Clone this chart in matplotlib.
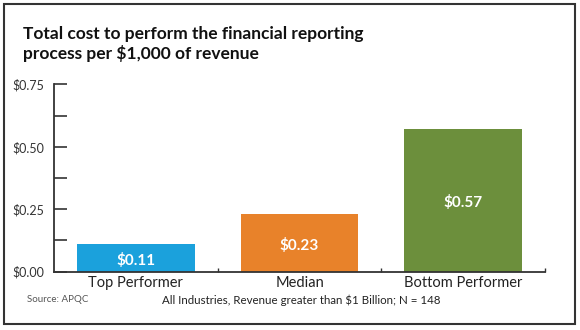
import matplotlib.pyplot as plt
from matplotlib.patches import Rectangle
from matplotlib.ticker import MultipleLocator, FixedLocator

categories = ["Top Performer", "Median", "Bottom Performer"]
costs = [0.11, 0.23, 0.57]
bar_colors = ["#1ba1dc", "#e8822a", "#6c8f3c"]
y_ticks = [0.00, 0.25, 0.50, 0.75]
y_tick_labels = ["$0.00", "$0.25", "$0.50", "$0.75"]

title = "Total cost to perform the financial reporting\nprocess per $1,000 of revenue"
source = "Source: APQC"
note = "All Industries, Revenue greater than \\$1 Billion; N = 148"

plt.rcParams["font.family"] = ["Lato", "DejaVu Sans"]
axis_color = "#333333"

fig = plt.figure(figsize=(5.8, 3.3), dpi=100)
ax = fig.add_axes([0.0931, 0.1767, 0.8466, 0.5678])

x = list(range(len(categories)))
bars = ax.bar(x, costs, width=0.72, color=bar_colors, zorder=2)

for bar, val in zip(bars, costs):
    ax.text(bar.get_x() + bar.get_width() / 2, val / 2 - 0.01, f"\\${val:.2f}",
            ha="center", va="center", color="white", fontsize=11, fontweight="bold")

ax.set_xlim(-0.5, 2.5)
ax.set_ylim(0, 0.75)

ax.set_yticks(y_ticks)
ax.set_yticklabels([t.replace("$", "\\$") for t in y_tick_labels])
ax.yaxis.set_minor_locator(MultipleLocator(0.125))
ax.tick_params(axis="y", which="both", direction="in", length=9, width=1.2,
               color=axis_color, labelsize=9, labelcolor=axis_color, pad=7)

ax.set_xticks(x)
ax.set_xticklabels(categories)
ax.xaxis.set_minor_locator(FixedLocator([0.5, 1.5, 2.5]))
ax.tick_params(axis="x", which="major", length=0, labelsize=10.5,
               labelcolor="#222222", pad=3)
ax.tick_params(axis="x", which="minor", direction="in", length=3, width=1,
               color=axis_color)

for side in ("top", "right"):
    ax.spines[side].set_visible(False)
for side in ("left", "bottom"):
    ax.spines[side].set_color(axis_color)
    ax.spines[side].set_linewidth(1.3)

fig.text(23 / 580, 1 - 26 / 330, title, ha="left", va="top", fontsize=12.5,
         fontweight="bold", color="#111111", linespacing=1.25)
fig.text(27 / 580, 1 - 300 / 330, source, ha="left", va="center",
         fontsize=7, color="#555555")
fig.text(162 / 580, 1 - 300 / 330, note, ha="left", va="center",
         fontsize=8.3, color="#222222")

fig.add_artist(Rectangle((4 / 580, 6 / 330), 571 / 580, 320 / 330,
                         transform=fig.transFigure, fill=False,
                         edgecolor="#333333", linewidth=1.5))

fig.savefig("out.png", dpi=100)
